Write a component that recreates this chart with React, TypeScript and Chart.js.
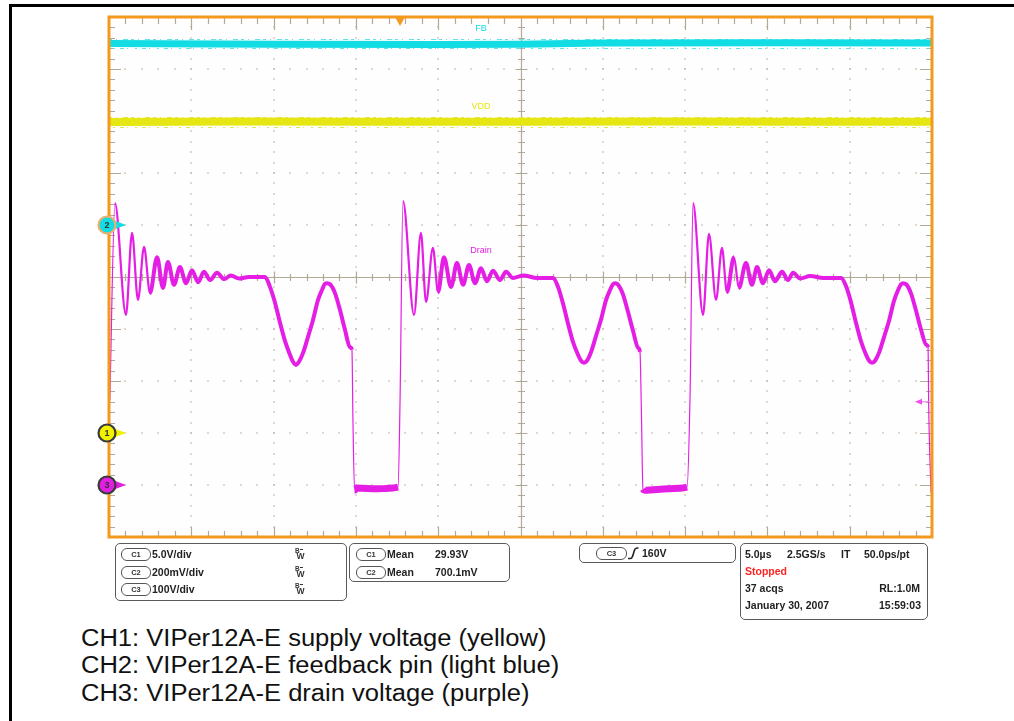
import React, { useEffect, useRef } from "react";
import { Chart, registerables } from "chart.js";

Chart.register(...registerables);

// ---------- data (time in µs, 5 µs/div, 10 divisions) ----------
const drainTimeUs = [
  // cycle 1
  0.05, 0.36, 1.03, 1.4, 1.76, 2.13, 2.49, 2.92, 3.28, 3.58, 3.95, 4.31, 4.68, 5.04, 5.41, 5.77, 6.14, 6.56, 7.0, 7.4,
  7.9, 8.5, 9.48, 9.78, 10.09, 10.39, 10.69, 11.0, 11.18, 11.36, 11.54, 11.79, 12.09, 12.39, 12.7, 12.94, 13.12, 13.24,
  13.43, 13.73, 14.03, 14.34, 14.64, 14.76, 14.82, 14.92, 15.07, 16.3, 17.56, 17.68, 17.86,
  // cycle 2
  18.53, 18.95, 19.26, 19.68, 19.99, 20.35, 20.78, 21.14, 21.51, 21.87, 22.24, 22.6, 22.96, 23.33, 23.75, 24.12, 24.54,
  25.2, 26.0, 26.98, 27.28, 27.59, 27.89, 28.19, 28.5, 28.68, 28.86, 29.04, 29.29, 29.59, 29.89, 30.2, 30.44, 30.62,
  30.74, 30.93, 31.23, 31.53, 31.84, 32.14, 32.26, 32.34, 32.44, 32.56, 34.0, 35.12, 35.3, 35.48,
  // cycle 3
  36.09, 36.45, 36.88, 37.24, 37.54, 37.97, 38.27, 38.7, 39.06, 39.37, 39.73, 40.1, 40.46, 40.89, 41.25, 41.56, 42.0,
  42.6, 43.4, 44.48, 44.78, 45.09, 45.39, 45.69, 46.0, 46.18, 46.36, 46.54, 46.79, 47.09, 47.39, 47.7, 47.94, 48.12,
  48.24, 48.43, 48.73, 49.03, 49.34, 49.64, 49.76, 49.8, 49.94,
];
const drainVolts = [
  // cycle 1
  163, 542, 327, 485, 356, 458, 369, 438, 379, 429, 385, 419, 388, 413, 390, 410, 394, 408, 396, 403,
  397, 400, 400, 381, 350, 312, 277, 250, 237, 231, 237, 254, 285, 317, 356, 375, 387, 388,
  386, 369, 337, 298, 265, 260, 125, -10, -6, -7, -4, 158, 546,
  // cycle 2
  327, 485, 352, 456, 371, 438, 381, 427, 385, 423, 388, 417, 392, 412, 394, 410, 398,
  403, 398, 398, 381, 348, 310, 275, 250, 239, 235, 239, 256, 287, 318, 356, 375, 386,
  388, 385, 366, 333, 296, 264, 256, 150, -8, -10, -7, -4, 170, 542,
  // cycle 3
  327, 483, 356, 456, 371, 438, 379, 427, 385, 419, 388, 413, 392, 410, 394, 408, 397,
  402, 398, 398, 382, 350, 311, 276, 250, 239, 235, 239, 255, 285, 316, 355, 375, 386,
  388, 386, 368, 335, 298, 270, 265, 150, -15,
];
const vddTimeUs = [0, 8, 16, 25, 34, 42, 50];
const vddVolts = [29.9, 29.95, 29.92, 29.93, 29.95, 29.92, 29.93];
const fbTimeUs = [0, 10, 20, 25, 30, 40, 50];
const fbVolts = [0.698, 0.695, 0.694, 0.695, 0.7, 0.701, 0.7];

const triggerTimeUs = 17.68;
const triggerLevelV = 160;

const chLabels = ["C1", "C2", "C3"];
const chScales = ["5.0V/div", "200mV/div", "100V/div"];
const measLabels = ["C1", "C2"];
const measNames = ["Mean", "Mean"];
const measValues = ["29.93V", "700.1mV"];
const captionLines = [
  "CH1: VIPer12A-E supply voltage (yellow)",
  "CH2: VIPer12A-E feedback pin (light blue)",
  "CH3: VIPer12A-E drain voltage (purple)",
];

const DRAIN = "#e41ee4";
const FB = "#12dce4";
const VDD = "#e6e612";
const ORANGE = "#f39a1e";
const GRID = "#b2a996";
const DOT = "#bdb4a3";

const pts = (xs: number[], ys: number[]) => xs.map((x, i) => ({ x, y: ys[i] }));

const scopePlugin = {
  id: "scope",
  beforeDatasetsDraw(chart: any) {
    const { ctx, chartArea: a, scales } = chart;
    const xs = scales.x;
    const ys = scales.yDrain;
    ctx.save();
    ctx.fillStyle = "#fefefe";
    ctx.fillRect(a.left, a.top, a.width, a.height);
    ctx.fillStyle = DOT;
    for (let d = 1; d < 10; d++) {
      if (d === 5) continue;
      const px = xs.getPixelForValue(d * 5);
      for (let v = -80; v < 900; v += 20) {
        const py = ys.getPixelForValue(v);
        ctx.fillRect(Math.round(px) - 0.7, Math.round(py) - 0.7, 1.4, 1.4);
      }
      const vy = ys.getPixelForValue(-100 + d * 100);
      for (let t = 1; t < 50; t++) {
        const qx = xs.getPixelForValue(t);
        ctx.fillRect(Math.round(qx) - 0.7, Math.round(vy) - 0.7, 1.4, 1.4);
      }
    }
    ctx.strokeStyle = GRID;
    ctx.lineWidth = 1.2;
    const cy = Math.round(ys.getPixelForValue(400)) + 0.5;
    const cx = Math.round(xs.getPixelForValue(25)) + 0.5;
    ctx.beginPath();
    ctx.moveTo(a.left, cy);
    ctx.lineTo(a.right, cy);
    ctx.moveTo(cx, a.top);
    ctx.lineTo(cx, a.bottom);
    for (let t = 1; t < 50; t++) {
      const px = Math.round(xs.getPixelForValue(t)) + 0.5;
      const l = t % 5 === 0 ? 6 : 3.5;
      ctx.moveTo(px, cy - l);
      ctx.lineTo(px, cy + l);
      const lb = t % 5 === 0 ? 13 : 7;
      ctx.moveTo(px, a.top);
      ctx.lineTo(px, a.top + lb);
      ctx.moveTo(px, a.bottom);
      ctx.lineTo(px, a.bottom - (t % 5 === 0 ? 10 : 6));
    }
    for (let v = -80; v < 900; v += 20) {
      const py = Math.round(ys.getPixelForValue(v)) + 0.5;
      const major = (v + 100) % 100 === 0;
      const l = major ? 6 : 3.5;
      ctx.moveTo(cx - l, py);
      ctx.lineTo(cx + l, py);
      const lb = major ? 12 : 6;
      ctx.moveTo(a.left, py);
      ctx.lineTo(a.left + lb, py);
      ctx.moveTo(a.right, py);
      ctx.lineTo(a.right - lb, py);
    }
    ctx.stroke();

    const fringe = (y: number, color: string, off: number) => {
      ctx.strokeStyle = color;
      ctx.lineWidth = 1;
      ctx.setLineDash([3, 4, 1, 6, 5, 3]);
      ctx.beginPath();
      ctx.moveTo(a.left, Math.round(y - off) + 0.5);
      ctx.lineTo(a.right, Math.round(y - off) + 0.5);
      ctx.stroke();
      ctx.setLineDash([2, 5, 4, 3, 1, 7]);
      ctx.beginPath();
      ctx.moveTo(a.left + 4, Math.round(y + off) + 0.5);
      ctx.lineTo(a.right, Math.round(y + off) + 0.5);
      ctx.stroke();
    };
    fringe(scales.yFb.getPixelForValue(0.697), "#5fe4ea", 4.5);
    fringe(scales.yVdd.getPixelForValue(29.93), "#e4e44a", 5);
    ctx.setLineDash([]);
    ctx.restore();
  },
  afterDatasetsDraw(chart: any) {
    const { ctx, chartArea: a, scales } = chart;
    const xs = scales.x;
    ctx.save();
    ctx.font = '9px "Liberation Sans", Arial, sans-serif';
    ctx.textAlign = "center";
    ctx.textBaseline = "middle";
    const lx = xs.getPixelForValue(22.6);
    ctx.fillStyle = FB;
    ctx.fillText("FB", lx, scales.yFb.getPixelForValue(0.7) - 14);
    ctx.fillStyle = VDD;
    ctx.fillText("VDD", lx, scales.yVdd.getPixelForValue(29.93) - 15);
    ctx.fillStyle = DRAIN;
    ctx.fillText("Drain", lx, scales.yDrain.getPixelForValue(450));

    ctx.strokeStyle = ORANGE;
    ctx.lineWidth = 3;
    ctx.strokeRect(a.left, a.top, a.right - a.left, a.bottom - a.top);

    const tx = xs.getPixelForValue(triggerTimeUs);
    ctx.fillStyle = ORANGE;
    ctx.beginPath();
    ctx.moveTo(tx - 5, a.top);
    ctx.lineTo(tx + 5, a.top);
    ctx.lineTo(tx, a.top + 9);
    ctx.closePath();
    ctx.fill();

    const ty = scales.yDrain.getPixelForValue(triggerLevelV);
    ctx.strokeStyle = "#f070f0";
    ctx.fillStyle = "#f050f0";
    ctx.lineWidth = 1;
    ctx.beginPath();
    ctx.moveTo(a.right - 12, ty);
    ctx.lineTo(a.right - 3, ty);
    ctx.stroke();
    ctx.beginPath();
    ctx.moveTo(a.right - 17, ty);
    ctx.lineTo(a.right - 10, ty - 3);
    ctx.lineTo(a.right - 10, ty + 3);
    ctx.closePath();
    ctx.fill();

    const markers = [
      { y: scales.yFb.getPixelForValue(0), fill: FB, ring: "#e8b070", n: "2" },
      { y: scales.yVdd.getPixelForValue(0), fill: "#f2f200", ring: "#3a3a3a", n: "1" },
      { y: scales.yDrain.getPixelForValue(0), fill: "#e21ee2", ring: "#3a3a3a", n: "3" },
    ];
    for (const m of markers) {
      const mx = a.left - 2;
      ctx.fillStyle = m.fill;
      ctx.beginPath();
      ctx.moveTo(mx + 7, m.y - 4.5);
      ctx.lineTo(mx + 19, m.y);
      ctx.lineTo(mx + 7, m.y + 4.5);
      ctx.closePath();
      ctx.fill();
      ctx.beginPath();
      ctx.arc(mx, m.y, 8.5, 0, Math.PI * 2);
      ctx.fill();
      ctx.strokeStyle = m.ring;
      ctx.lineWidth = 2.2;
      ctx.stroke();
      ctx.fillStyle = "#333";
      ctx.font = 'bold 9px "Liberation Sans", Arial, sans-serif';
      ctx.fillText(m.n, mx, m.y + 0.5);
    }
    ctx.restore();
  },
};

const Pill = ({ left, cy, label, w = 28 }: { left: number; cy: number; label: string; w?: number }) => (
  <div
    style={{
      position: "absolute",
      left,
      top: cy - 6,
      width: w,
      height: 11,
      border: "1px solid #555",
      borderRadius: 6,
      fontSize: 7.5,
      fontWeight: "bold",
      textAlign: "center",
      lineHeight: "11px",
      color: "#333",
      boxSizing: "content-box",
    }}
  >
    {label}
  </div>
);

const T = ({ x, cy, children, color = "#222", size = 10.5, right }: any) => (
  <div
    style={{
      position: "absolute",
      left: right === undefined ? x : undefined,
      right: right !== undefined ? 1014 - right : undefined,
      top: cy - 7,
      height: 14,
      lineHeight: "14px",
      fontSize: size,
      fontWeight: "bold",
      color,
      whiteSpace: "nowrap",
    }}
  >
    {children}
  </div>
);

const BW = ({ x, cy }: { x: number; cy: number }) => (
  <div style={{ position: "absolute", left: x, top: cy - 6, width: 10, height: 12, color: "#333", fontWeight: "bold" }}>
    <span style={{ position: "absolute", left: 0, top: -1, fontSize: 6.5, lineHeight: "8px" }}>B</span>
    <span style={{ position: "absolute", left: 1.5, top: 3, fontSize: 8.5, lineHeight: "10px" }}>W</span>
    <span style={{ position: "absolute", left: 5, top: 1, width: 3, height: 1, background: "#333" }} />
  </div>
);

const boxStyle = (left: number, top: number, w: number, h: number): React.CSSProperties => ({
  position: "absolute",
  left,
  top,
  width: w,
  height: h,
  border: "1px solid #5a5a5a",
  borderRadius: 5,
  boxSizing: "border-box",
});

export default function App() {
  const ref = useRef<HTMLCanvasElement>(null);

  useEffect(() => {
    const segWidth = (ctx: any) => {
      const p0 = ctx.p0;
      const p1 = ctx.p1;
      if (p0.parsed.y < 30 && p1.parsed.y < 30) return 7;
      const dx = Math.abs(p1.x - p0.x) || 0.01;
      const dy = Math.abs(p1.y - p0.y);
      const s = dy / dx;
      if (s > 25) return 1.2;
      if (s > 6) return 2.2;
      return 4;
    };
    const chart = new Chart(ref.current as HTMLCanvasElement, {
      type: "line",
      data: {
        datasets: [
          {
            label: "FB",
            data: pts(fbTimeUs, fbVolts),
            yAxisID: "yFb",
            borderColor: FB,
            borderWidth: 7,
            pointRadius: 0,
          },
          {
            label: "VDD",
            data: pts(vddTimeUs, vddVolts),
            yAxisID: "yVdd",
            borderColor: VDD,
            borderWidth: 8,
            pointRadius: 0,
          },
          {
            label: "Drain",
            data: pts(drainTimeUs, drainVolts),
            yAxisID: "yDrain",
            borderColor: DRAIN,
            borderWidth: 3,
            borderJoinStyle: "round",
            pointRadius: 0,
            cubicInterpolationMode: "monotone",
            segment: { borderWidth: segWidth },
          } as any,
        ],
      },
      options: {
        responsive: false,
        maintainAspectRatio: false,
        animation: false,
        devicePixelRatio: 1,
        layout: { padding: { left: 29, top: 7, right: 28, bottom: 13 } },
        plugins: { legend: { display: false }, tooltip: { enabled: false } },
        scales: {
          x: { type: "linear", min: 0, max: 50, display: false },
          yVdd: { type: "linear", min: -10, max: 40, display: false },
          yFb: { type: "linear", min: -1.2, max: 0.8, display: false },
          yDrain: { type: "linear", min: -100, max: 900, display: false },
        },
      },
      plugins: [scopePlugin],
    });
    return () => chart.destroy();
  }, []);

  return (
    <div
      style={{
        position: "fixed",
        left: 0,
        top: 0,
        width: 1014,
        height: 721,
        background: "#fff",
        overflow: "hidden",
        fontFamily: '"Liberation Sans", Arial, sans-serif',
      }}
    >
      <div
        style={{
          position: "absolute",
          left: 9,
          top: 4,
          width: 1100,
          height: 800,
          borderLeft: "3px solid #000",
          borderTop: "3px solid #000",
        }}
      />
      <canvas
        ref={ref}
        width={880}
        height={540}
        style={{ position: "absolute", left: 80, top: 10, width: 880, height: 540 }}
      />

      <div style={boxStyle(115, 543, 232, 58)} />
      {chLabels.map((c, i) => {
        const cy = 554 + i * 17.5;
        return (
          <React.Fragment key={c}>
            <Pill left={121} cy={cy} label={c} />
            <T x={152} cy={cy}>{chScales[i]}</T>
            <BW x={295} cy={cy} />
          </React.Fragment>
        );
      })}

      <div style={boxStyle(349, 543, 161, 39)} />
      {measLabels.map((c, i) => {
        const cy = 554 + i * 18;
        return (
          <React.Fragment key={c + i}>
            <Pill left={356} cy={cy} label={c} />
            <T x={387} cy={cy}>{measNames[i]}</T>
            <T x={435} cy={cy}>{measValues[i]}</T>
          </React.Fragment>
        );
      })}

      <div style={boxStyle(579, 543, 157, 20)} />
      <Pill left={596} cy={553} label="C3" w={29} />
      <svg style={{ position: "absolute", left: 627, top: 547 }} width={12} height={13}>
        <path d="M1 11.5 L3.5 11.5 Q5 11.5 6 8 L7.5 3 Q8.3 1 10 1 L11.5 1" stroke="#222" strokeWidth={1.6} fill="none" />
      </svg>
      <T x={642} cy={553}>160V</T>

      <div style={boxStyle(740, 543, 188, 77)} />
      <T x={745} cy={554}>5.0µs</T>
      <T x={787} cy={554}>2.5GS/s</T>
      <T x={841} cy={554}>IT</T>
      <T x={864} cy={554}>50.0ps/pt</T>
      <T x={745} cy={571} color="#ff2424">Stopped</T>
      <T x={745} cy={588}>37 acqs</T>
      <T right={920} cy={588}>RL:1.0M</T>
      <T x={745} cy={605}>January 30, 2007</T>
      <T right={921} cy={605}>15:59:03</T>

      {captionLines.map((line, i) => (
        <div
          key={i}
          style={{
            position: "absolute",
            left: 81,
            top: 625 + i * 27.3,
            fontSize: 23,
            lineHeight: "26px",
            color: "#111",
            whiteSpace: "nowrap",
            transform: "scaleX(1.11)",
            transformOrigin: "left center",
          }}
        >
          {line}
        </div>
      ))}
    </div>
  );
}
